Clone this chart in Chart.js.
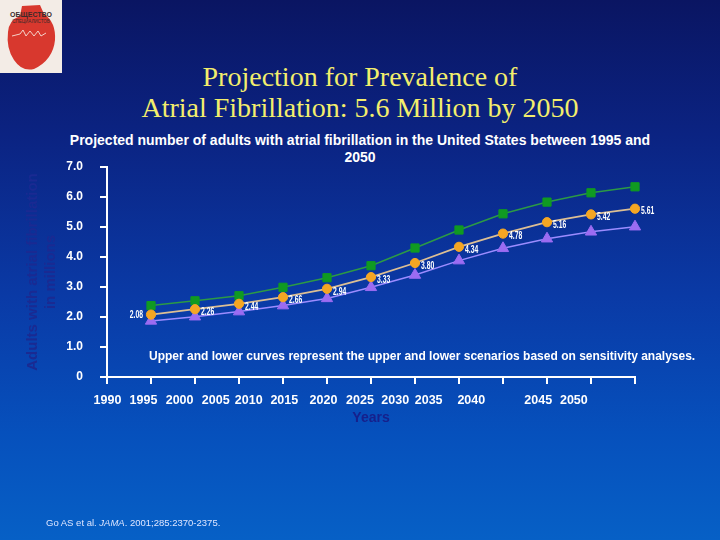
<!DOCTYPE html>
<html>
<head>
<meta charset="utf-8">
<script src="https://cdn.jsdelivr.net/npm/chart.js@4.4.1/dist/chart.umd.min.js"></script>
<style>
  html, body { margin: 0; padding: 0; }
  body {
    width: 720px; height: 540px; overflow: hidden; position: relative;
    background: linear-gradient(to bottom, #0a1562 0%, #0b2382 25%, #0a3aa6 55%, #0650bc 80%, #0660c6 100%);
    font-family: "Liberation Sans", Arial, sans-serif;
  }
  #chart { position: absolute; left: 0; top: 0; }
  .title {
    position: absolute; left: 0; width: 720px; top: 61px; text-align: center;
    font-family: "Liberation Serif", "Times New Roman", serif; font-size: 28px; line-height: 31px;
    color: #f3ee6c;
  }
  .subtitle {
    position: absolute; left: 20px; width: 680px; top: 132px; text-align: center;
    font-weight: bold; font-size: 14px; line-height: 17px; color: #ffffff; white-space: nowrap;
  }
  .note {
    position: absolute; left: 149px; top: 348px; white-space: nowrap;
    font-weight: bold; font-size: 12px; line-height: 16px; color: #ffffff;
  }
  .source {
    position: absolute; left: 46px; top: 517px; white-space: nowrap;
    font-size: 9.5px; line-height: 12px; color: #dfe6ff;
  }
  .logo { position: absolute; left: 0; top: 0; }
</style>
</head>
<body>
<svg class="logo" width="62" height="73" viewBox="0 0 62 73">
  <rect x="0" y="0" width="62" height="73" fill="#f3ece6"/>
  <path d="M22 6 L40 5 L44 14 Q56 22 55 40 Q53 60 34 69 Q22 72 14 60 Q6 48 8 32 Q9 20 20 16 Z" fill="#d8382e"/>
  <path d="M12 36 L20 34 L23 30 L26 36 L30 31 L34 36 L38 31 L41 36 L46 33" stroke="#f5d0c8" stroke-width="1" fill="none"/>
  <text x="31" y="17" font-size="7" font-weight="bold" text-anchor="middle" fill="#3a2a2a" font-family="Liberation Sans, Arial">ОБЩЕСТВО</text>
  <text x="31" y="23" font-size="4.5" text-anchor="middle" fill="#3a2a2a" font-family="Liberation Sans, Arial">СПЕЦИАЛИСТОВ</text>
</svg>
<div class="title">Projection for Prevalence of<br>Atrial Fibrillation: 5.6 Million by 2050</div>
<div class="subtitle">Projected number of adults with atrial fibrillation in the United States between 1995 and<br>2050</div>
<canvas id="chart" width="720" height="540"></canvas>
<div class="note">Upper and lower curves represent the upper and lower scenarios based on sensitivity analyses.</div>
<div class="source">Go AS et al. <i>JAMA</i>. 2001;285:2370-2375.</div>
<script>
// ---- data ----
const years = ['1995','2000','2005','2010','2015','2020','2025','2030','2035','2040','2045','2050'];
const yearLabels = ['1990','1995','2000','2005','2010','2015','2020','2025','2030','2035','2040','2045','2050'];
const upperScenario = [2.38, 2.54, 2.71, 2.99, 3.31, 3.71, 4.30, 4.90, 5.44, 5.83, 6.14, 6.34];
const centralEstimate = [2.08, 2.26, 2.44, 2.66, 2.94, 3.33, 3.80, 4.34, 4.78, 5.16, 5.42, 5.61];
const lowerScenario = [1.87, 2.01, 2.18, 2.38, 2.62, 2.99, 3.40, 3.88, 4.29, 4.61, 4.84, 5.01];
const yTickValues = [0, 1, 2, 3, 4, 5, 6, 7];

// layout: where the year labels sit on the x scale (the original slide's labels are offset from the ticks)
const yearLabelSlots = [0.01, 0.83, 1.65, 2.47, 3.22, 4.03, 4.92, 5.75, 6.55, 7.31, 8.28, 9.80, 10.61];

const toPoints = arr => arr.map((v, i) => ({ x: i + 1, y: v }));

const valueLabels = {
  id: 'valueLabels',
  afterDatasetsDraw(chart) {
    const meta = chart.getDatasetMeta(2);
    const ctx = chart.ctx;
    meta.data.forEach((pt, i) => {
      const txt = centralEstimate[i].toFixed(2);
      ctx.save();
      ctx.fillStyle = '#ffffff';
      ctx.font = 'bold 10px "Liberation Sans", Arial, sans-serif';
      ctx.textBaseline = 'middle';
      if (i === 0) {
        ctx.translate(pt.x - 8, pt.y + 1);
        ctx.scale(0.68, 1);
        ctx.textAlign = 'right';
      } else {
        ctx.translate(pt.x + 6, pt.y + 3);
        ctx.scale(0.68, 1);
        ctx.textAlign = 'left';
      }
      ctx.fillText(txt, 0, 0);
      ctx.restore();
    });
  }
};

const axisFont = { family: '"Liberation Sans", Arial, sans-serif', weight: 'bold', size: 12 };

new Chart(document.getElementById('chart'), {
  type: 'line',
  data: {
    datasets: [
      {
        label: 'Upper scenario',
        data: toPoints(upperScenario),
        borderColor: '#2c9a45', backgroundColor: '#109a22',
        pointBackgroundColor: '#109a22', pointBorderColor: '#109a22',
        borderWidth: 1.5, pointStyle: 'rect', pointRadius: 5.8, pointBorderWidth: 1,
        order: 2, clip: false
      },
      {
        label: 'Lower scenario',
        data: toPoints(lowerScenario),
        borderColor: '#9c8cff', backgroundColor: '#9b6cf2',
        pointBackgroundColor: '#9b6cf2', pointBorderColor: '#9b6cf2',
        borderWidth: 1.5, pointStyle: 'triangle', pointRadius: 6.5, pointBorderWidth: 1,
        order: 1, clip: false
      },
      {
        label: 'Projected',
        data: toPoints(centralEstimate),
        borderColor: '#dcbf94', backgroundColor: '#f5a623',
        pointBackgroundColor: '#f5a623', pointBorderColor: '#f5a623',
        borderWidth: 1.8, pointStyle: 'circle', pointRadius: 4.6, pointBorderWidth: 1,
        order: 0, clip: false
      }
    ]
  },
  options: {
    responsive: false,
    animation: false,
    devicePixelRatio: 1,
    layout: { padding: { left: 0, top: 167, right: 85, bottom: 111 } },
    plugins: { legend: { display: false }, tooltip: { enabled: false }, title: { display: false } },
    elements: { line: { tension: 0 } },
    scales: {
      x: {
        type: 'linear', position: 'bottom', min: 0, max: 12, weight: 0,
        ticks: { display: false, stepSize: 1 },
        grid: { drawOnChartArea: false, color: '#ffffff', lineWidth: 2, tickLength: 7 },
        border: { color: '#ffffff', width: 2 },
        afterFit: s => { s.height = 7; }
      },
      xl: {
        type: 'linear', position: 'bottom', min: 0, max: 12, weight: 1,
        grid: { display: false },
        border: { display: false },
        afterBuildTicks: s => { s.ticks = yearLabelSlots.map(v => ({ value: v })); },
        ticks: {
          autoSkip: false, maxRotation: 0, minRotation: 0, padding: 1.5,
          color: '#ffffff', font: { ...axisFont, size: 12.5 },
          callback: (v, i) => yearLabels[i]
        },
        title: {
          display: true, text: 'Years', color: '#16208c',
          font: { family: '"Liberation Sans", Arial, sans-serif', weight: 'bold', size: 14 },
          padding: { top: 0, bottom: 2 }
        },
        afterFit: s => { s.height = 45; }
      },
      y: {
        position: 'left', min: 0, max: 7,
        afterBuildTicks: s => { s.ticks = yTickValues.map(v => ({ value: v })); },
        ticks: {
          color: '#ffffff', font: axisFont, padding: 17,
          callback: v => (v === 0 ? '0' : v.toFixed(1))
        },
        grid: { drawOnChartArea: false, color: '#ffffff', lineWidth: 2, tickLength: 7 },
        border: { color: '#ffffff', width: 2 },
        title: {
          display: true, text: ['Adults with atrial fibrillation', 'in millions'], color: '#1a2a92',
          font: { family: '"Liberation Sans", Arial, sans-serif', weight: 'bold', size: 15, lineHeight: 1.25 },
          padding: { top: 23, bottom: 0 }
        },
        afterFit: s => { s.width = 107; }
      }
    }
  },
  plugins: [valueLabels]
});
</script>
</body>
</html>
